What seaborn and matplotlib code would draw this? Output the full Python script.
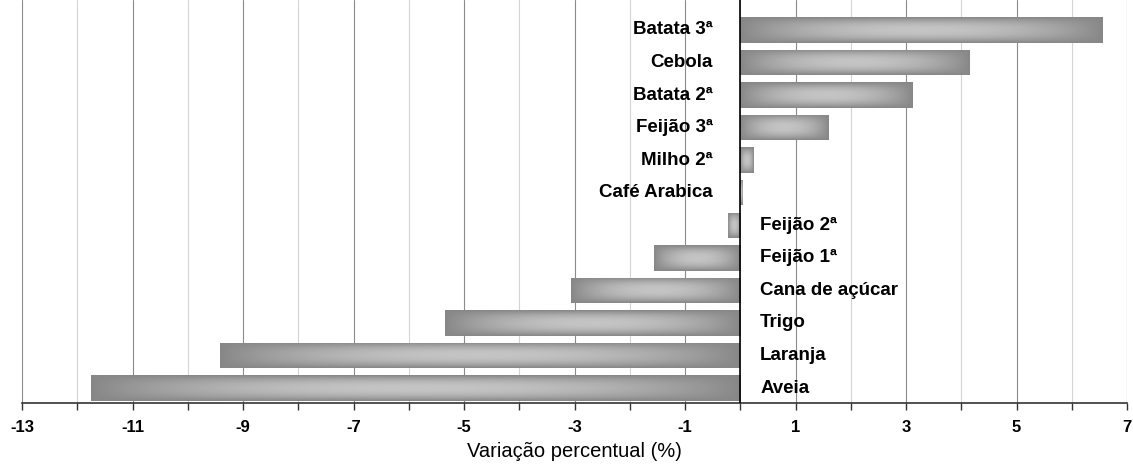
import numpy as np
import pandas as pd
import matplotlib
matplotlib.use("Agg")
import matplotlib.pyplot as plt
from matplotlib.ticker import MultipleLocator
import seaborn as sns

culturas = ["Batata 3ª", "Cebola", "Batata 2ª", "Feijão 3ª", "Milho 2ª", "Café Arabica",
            "Feijão 2ª", "Feijão 1ª", "Cana de açúcar", "Trigo", "Laranja", "Aveia"]
variacao = [6.57, 4.16, 3.13, 1.61, 0.24, 0.05,
            -0.22, -1.56, -3.06, -5.34, -9.41, -11.76]

df = pd.DataFrame({"cultura": culturas, "variacao": variacao})

sns.set_style("white")
plt.rcParams["font.family"] = ["Liberation Sans", "DejaVu Sans"]
plt.rcParams["axes.unicode_minus"] = False
plt.rcParams["text.color"] = "black"
plt.rcParams["xtick.color"] = "black"
plt.rcParams["axes.labelcolor"] = "black"

fig = plt.figure(figsize=(11.33, 4.67), dpi=100)
ax = fig.add_axes([22 / 1133, 64 / 467, 1105 / 1133, 403 / 467])

sns.barplot(data=df, x="variacao", y="cultura", orient="h", color="#999999",
            width=0.78, ax=ax)

# gradiente nas barras (claro no centro, escuro nas bordas)
nx, ny = 200, 60
u = np.linspace(-1, 1, nx)
v = np.linspace(-1, 1, ny)
U, V = np.meshgrid(u, v)
t = (1 - np.abs(U) ** 2.0) ** 0.9 * (1 - np.abs(V) ** 2.2) ** 1.1
escuro, claro = 0.53, 0.77
grad = escuro + (claro - escuro) * t

for p in ax.patches:
    x0, y0 = p.get_x(), p.get_y()
    w, h = p.get_width(), p.get_height()
    p.set_facecolor("none")
    p.set_edgecolor("none")
    im = ax.imshow(grad, cmap="gray", vmin=0, vmax=1, aspect="auto",
                   extent=[x0, x0 + w, y0 + h, y0], zorder=2, interpolation="bilinear")
    im.set_clip_path(p)

ax.set_xlim(-13, 7)
ax.set_ylim(11.46, -0.92)

# rotulos das culturas ao lado da linha do zero
for i, (nome, val) in enumerate(zip(culturas, variacao)):
    if val >= 0:
        ax.text(-0.5, i, nome, ha="right", va="center", fontsize=13.5, fontweight="bold")
    else:
        ax.text(0.36, i, nome, ha="left", va="center", fontsize=13.5, fontweight="bold")

ax.axvline(0, color="black", lw=1.2, zorder=3)

ax.xaxis.set_major_locator(MultipleLocator(2, offset=1))
ax.xaxis.set_minor_locator(MultipleLocator(1))
ax.grid(which="major", axis="x", color="#8a8a8a", lw=0.8, zorder=0)
ax.grid(which="minor", axis="x", color="#d4d4d4", lw=0.8, zorder=0)
ax.set_axisbelow(True)
ax.set_yticks([])
ax.set_ylabel("")
ax.set_xlabel("Variação percentual (%)", fontsize=14.5, labelpad=5)
ax.tick_params(axis="x", which="both", direction="out", length=5, width=1, color="#333333",
               bottom=True, labelsize=12, pad=7)
for lab in ax.get_xticklabels():
    lab.set_fontweight("bold")

sns.despine(ax=ax, left=True, top=True, right=True)
ax.spines["bottom"].set_color("#333333")
ax.spines["bottom"].set_linewidth(1.2)

fig.savefig("out.png", dpi=100)
